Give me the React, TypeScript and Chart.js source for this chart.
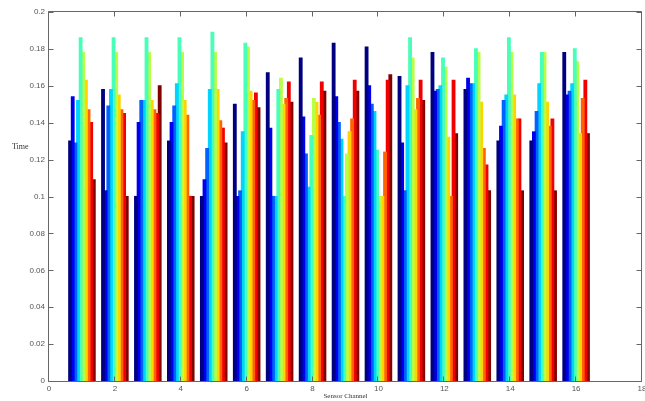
import React, { useEffect, useRef } from "react";
import { Chart, registerables } from "chart.js";

Chart.register(...registerables);

// Sensor channels (x positions of the bar groups)
const channels = [1, 2, 3, 4, 5, 6, 7, 8, 9, 10, 11, 12, 13, 14, 15, 16];

// Axis ranges / tick steps
const xMin = 0;
const xMax = 18;
const xStep = 2;
const yMin = 0;
const yMax = 0.2;
const yStep = 0.02;

// Ten series (one per bar colour within each group), values per channel
const s1 = [0.130, 0.158, 0.100, 0.130, 0.100, 0.150, 0.167, 0.175, 0.183, 0.181, 0.165, 0.178, 0.158, 0.130, 0.130, 0.178];
const s2 = [0.154, 0.103, 0.140, 0.140, 0.109, 0.100, 0.137, 0.143, 0.154, 0.160, 0.129, 0.157, 0.164, 0.138, 0.135, 0.155];
const s3 = [0.129, 0.149, 0.152, 0.149, 0.126, 0.103, 0.100, 0.123, 0.140, 0.150, 0.103, 0.158, 0.161, 0.152, 0.146, 0.157];
const s4 = [0.152, 0.158, 0.152, 0.161, 0.158, 0.135, 0.100, 0.105, 0.131, 0.146, 0.160, 0.160, 0.161, 0.155, 0.161, 0.161];
const s5 = [0.186, 0.186, 0.186, 0.186, 0.189, 0.183, 0.158, 0.133, 0.100, 0.125, 0.186, 0.175, 0.180, 0.186, 0.178, 0.180];
const s6 = [0.178, 0.178, 0.178, 0.178, 0.178, 0.181, 0.164, 0.153, 0.123, 0.100, 0.175, 0.170, 0.178, 0.178, 0.178, 0.173];
const s7 = [0.163, 0.155, 0.152, 0.152, 0.158, 0.157, 0.150, 0.151, 0.135, 0.100, 0.147, 0.132, 0.151, 0.155, 0.151, 0.134];
const s8 = [0.147, 0.147, 0.147, 0.144, 0.141, 0.152, 0.153, 0.144, 0.142, 0.124, 0.153, 0.100, 0.126, 0.142, 0.138, 0.153];
const s9 = [0.140, 0.145, 0.145, 0.100, 0.137, 0.156, 0.162, 0.162, 0.163, 0.163, 0.163, 0.163, 0.117, 0.142, 0.142, 0.163];
const s10 = [0.109, 0.100, 0.160, 0.100, 0.129, 0.148, 0.151, 0.157, 0.157, 0.166, 0.152, 0.134, 0.103, 0.103, 0.103, 0.134];

// Jet colormap sampled at 10 points
const seriesColors = [
  "#000080", "#0000F1", "#0063FF", "#00D4FF", "#47FFB8",
  "#B8FF47", "#FFD400", "#FF6300", "#F10000", "#800000",
];

const xTitle = "Sensor Channel";
const yTitle = "Time";

export default function App() {
  const ref = useRef<HTMLCanvasElement | null>(null);

  useEffect(() => {
    if (!ref.current) return;
    const series = [s1, s2, s3, s4, s5, s6, s7, s8, s9, s10];
    const datasets = series.map((vals, i) => ({
      label: "S" + (i + 1),
      data: channels.map((c, j) => ({ x: c, y: vals[j] })),
      backgroundColor: seriesColors[i],
      borderWidth: 0,
      inflateAmount: 0.6,
      categoryPercentage: 0.8,
      barPercentage: 1.0,
    }));

    const frame = {
      id: "matlabFrame",
      afterDatasetsDraw(chart: any) {
        const { ctx, chartArea: a, scales } = chart;
        const xs = scales.x;
        const ys = scales.y;
        const L = Math.round(a.left) - 0.5;
        const R = Math.round(a.right) - 0.5;
        const T = Math.round(a.top) - 0.5;
        const B = Math.round(a.bottom) + 0.5;
        ctx.save();
        ctx.strokeStyle = "#666";
        ctx.lineWidth = 1;
        ctx.beginPath();
        ctx.moveTo(L, T);
        ctx.lineTo(R, T);
        ctx.lineTo(R, B);
        ctx.lineTo(L, B);
        ctx.closePath();
        const tl = 5;
        for (let v = xMin; v <= xMax + 1e-9; v += xStep) {
          const px = Math.round(xs.getPixelForValue(v)) - 0.5;
          ctx.moveTo(px, B);
          ctx.lineTo(px, B - tl);
          ctx.moveTo(px, T);
          ctx.lineTo(px, T + tl);
        }
        for (let k = 0; k <= Math.round((yMax - yMin) / yStep); k++) {
          const v = yMin + k * yStep;
          const py = Math.round(ys.getPixelForValue(v)) + 0.5;
          ctx.moveTo(L, py);
          ctx.lineTo(L + tl, py);
          ctx.moveTo(R, py);
          ctx.lineTo(R - tl, py);
        }
        ctx.stroke();
        ctx.fillStyle = "#333";
        ctx.font = '8px "Liberation Serif"';
        ctx.textAlign = "left";
        ctx.textBaseline = "middle";
        ctx.fillText(yTitle, 12, 147);
        ctx.restore();
      },
    };

    const chart = new Chart(ref.current, {
      type: "bar",
      data: { datasets } as any,
      options: {
        responsive: false,
        maintainAspectRatio: false,
        animation: false,
        devicePixelRatio: 1,
        layout: { padding: { left: 0, right: 3, top: 12, bottom: 0 } },
        plugins: {
          legend: { display: false },
          tooltip: { enabled: false },
        },
        scales: {
          x: {
            type: "linear",
            min: xMin,
            max: xMax,
            offset: false,
            grid: { display: false, drawTicks: false },
            border: { display: false },
            ticks: {
              stepSize: xStep,
              padding: 3,
              color: "#555",
              font: { family: '"Liberation Sans", Arial, sans-serif', size: 8 },
              maxRotation: 0,
              autoSkip: false,
            },
            title: {
              display: true,
              text: xTitle,
              color: "#333",
              font: { family: '"Liberation Serif", serif', size: 7 },
              padding: { top: 0, bottom: 1 },
            },
            afterFit(scale: any) {
              scale.height = 20;
              scale.paddingLeft = 0;
              scale.paddingRight = 0;
            },
          } as any,
          y: {
            type: "linear",
            min: yMin,
            max: yMax,
            grid: { display: false, drawTicks: false },
            border: { display: false },
            ticks: {
              stepSize: yStep,
              padding: 4,
              color: "#555",
              font: { family: '"Liberation Sans", Arial, sans-serif', size: 8 },
              callback: (v: any) => String(Number(Number(v).toFixed(2))),
            },
            afterFit(scale: any) {
              scale.width = 49;
              scale.paddingTop = 0;
              scale.paddingBottom = 0;
            },
          } as any,
        },
      },
      plugins: [frame],
    });

    return () => chart.destroy();
  }, []);

  return (
    <div style={{ position: "absolute", left: 0, top: 0, width: 645, height: 401, background: "#fff" }}>
      <canvas ref={ref} width={645} height={401} style={{ display: "block" }} />
    </div>
  );
}
